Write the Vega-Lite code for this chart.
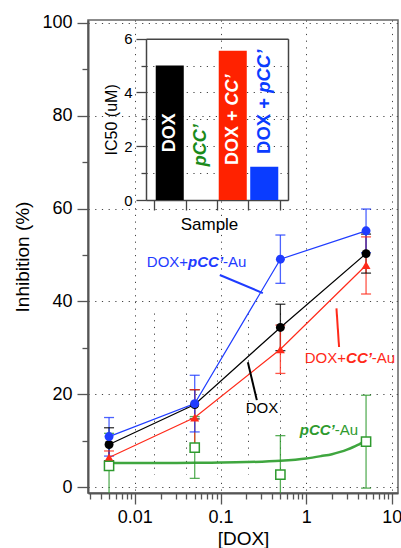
{
  "$schema": "https://vega.github.io/schema/vega-lite/v6.json",
  "width": 310,
  "height": 473,
  "autosize": "none",
  "padding": {"left": 88, "top": 20, "right": 3, "bottom": 55},
  "config": {
    "font": "Liberation Sans",
    "view": {"stroke": "#666", "strokeWidth": 1.5},
    "axis": {"labelColor": "#000", "titleColor": "#000", "titleFontWeight": "normal"}
  },
  "datasets": {
    "pts": [
      {"s": "pCC’-Au", "x": 0.005, "y": 4.6, "lo": -2.4, "hi": 11.6},
      {"s": "pCC’-Au", "x": 0.05, "y": 8.5, "lo": 1.9, "hi": 15.2},
      {"s": "pCC’-Au", "x": 0.5, "y": 2.7, "lo": -5.7, "hi": 11.1},
      {"s": "pCC’-Au", "x": 5, "y": 9.8, "lo": -0.2, "hi": 19.8},
      {"s": "DOX", "x": 0.005, "y": 9.2, "lo": 5.7, "hi": 12.8},
      {"s": "DOX", "x": 0.05, "y": 17.8, "lo": 14.7, "hi": 21.0},
      {"s": "DOX", "x": 0.5, "y": 34.4, "lo": 29.4, "hi": 39.4},
      {"s": "DOX", "x": 5, "y": 50.3, "lo": 46.1, "hi": 54.5},
      {"s": "DOX+CC’-Au", "x": 0.005, "y": 6.4, "lo": 5.0, "hi": 7.8},
      {"s": "DOX+CC’-Au", "x": 0.05, "y": 15.0, "lo": 9.0, "hi": 21.0},
      {"s": "DOX+CC’-Au", "x": 0.5, "y": 29.7, "lo": 24.5, "hi": 34.9},
      {"s": "DOX+CC’-Au", "x": 5, "y": 47.8, "lo": 41.6, "hi": 53.9},
      {"s": "DOX+pCC’-Au", "x": 0.005, "y": 10.9, "lo": 6.7, "hi": 15.0},
      {"s": "DOX+pCC’-Au", "x": 0.05, "y": 18.0, "lo": 11.9, "hi": 24.1},
      {"s": "DOX+pCC’-Au", "x": 0.5, "y": 49.1, "lo": 43.9, "hi": 54.3},
      {"s": "DOX+pCC’-Au", "x": 5, "y": 55.2, "lo": 50.5, "hi": 59.9}
    ],
    "fit": [
      {"x": 0.005, "y": 5.2}, {"x": 0.01, "y": 5.2}, {"x": 0.02, "y": 5.22},
      {"x": 0.05, "y": 5.25}, {"x": 0.1, "y": 5.3}, {"x": 0.2, "y": 5.4},
      {"x": 0.5, "y": 5.7}, {"x": 1, "y": 6.2}, {"x": 1.5, "y": 6.7},
      {"x": 2, "y": 7.1}, {"x": 2.5, "y": 7.6}, {"x": 3, "y": 8.1},
      {"x": 3.5, "y": 8.6}, {"x": 4, "y": 9.1}, {"x": 4.5, "y": 9.6}, {"x": 5, "y": 10.0}
    ],
    "ann": [
      {"s": "DOX+pCC’-Au", "x1": 0.0982, "y1": 45.7, "x2": 0.312, "y2": 41.8},
      {"s": "DOX+CC’-Au", "x1": 2.257, "y1": 38.5, "x2": 2.42, "y2": 30.2},
      {"s": "DOX", "x1": 0.2086, "y1": 26.9, "x2": 0.2655, "y2": 18.75}
    ],
    "lab": [
      {"s": "DOX+pCC’-Au", "st": "n", "t": "DOX+", "x": 0.0138, "y": 47.5},
      {"s": "DOX+pCC’-Au", "st": "b", "t": "pCC’", "x": 0.04188, "y": 47.5},
      {"s": "DOX+pCC’-Au", "st": "n", "t": "-Au", "x": 0.1072, "y": 47.5},
      {"s": "DOX+CC’-Au", "st": "n", "t": "DOX+", "x": 0.9632, "y": 26.8},
      {"s": "DOX+CC’-Au", "st": "b", "t": "CC’", "x": 2.922, "y": 26.8},
      {"s": "DOX+CC’-Au", "st": "n", "t": "-Au", "x": 5.843, "y": 26.8},
      {"s": "DOX", "st": "n", "t": "DOX", "x": 0.1973, "y": 15.9},
      {"s": "pCC’-Au", "st": "b", "t": "pCC’", "x": 0.842, "y": 11.2},
      {"s": "pCC’-Au", "st": "n", "t": "-Au", "x": 2.157, "y": 11.2}
    ],
    "bars": [
      {"c": "DOX", "v": 5.0},
      {"c": "pCC’", "v": 0},
      {"c": "DOX + CC’", "v": 5.55},
      {"c": "DOX + pCC’", "v": 1.24}
    ],
    "blab": [
      {"k": "wr", "c": "DOX", "t": "DOX", "v": 3.23},
      {"k": "wr", "c": "DOX + CC’", "t": "DOX +", "v": 3.33},
      {"k": "wi", "c": "DOX + CC’", "t": "CC’", "v": 3.33},
      {"k": "gi", "c": "pCC’", "t": "pCC’", "v": 2.04},
      {"k": "br", "c": "DOX + pCC’", "t": "DOX +", "v": 3.8},
      {"k": "bi", "c": "DOX + pCC’", "t": "pCC’", "v": 3.8}
    ]
  },
  "layer": [
    {
      "layer": [
        {
          "data": {"name": "fit"},
          "mark": {"type": "line", "color": "#3fa63f", "strokeWidth": 2.5, "interpolate": "monotone"},
          "encoding": {
            "x": {
              "field": "x", "type": "quantitative",
              "scale": {"type": "log", "domain": [0.00284, 11.8], "nice": false},
              "axis": {
                "orient": "bottom",
                "values": [0.003, 0.004, 0.005, 0.006, 0.007, 0.008, 0.009, 0.01, 0.02, 0.03, 0.04, 0.05, 0.06, 0.07, 0.08, 0.09, 0.1, 0.2, 0.3, 0.4, 0.5, 0.6, 0.7, 0.8, 0.9, 1, 2, 3, 4, 5, 6, 7, 8, 9, 10],
                "labelExpr": "abs(log(datum.value)/LN10 - round(log(datum.value)/LN10)) < 0.001 ? format(datum.value, '~g') : ''",
                "tickSize": {"condition": {"test": "abs(log(datum.value)/LN10 - round(log(datum.value)/LN10)) < 0.001", "value": 11}, "value": 6},
                "grid": true,
                "gridOpacity": {"condition": {"test": "abs(log(datum.value)/LN10 - round(log(datum.value)/LN10)) < 0.001", "value": 1}, "value": 0},
                "gridDash": [1.2, 5.5], "gridColor": "#444",
                "domainColor": "#555", "domainWidth": 2,
                "tickColor": "#555", "tickWidth": 1.3,
                "labelFontSize": 18, "labelPadding": 4, "labelFlush": false, "labelOverlap": false,
                "title": "[DOX]", "titleFontSize": 19, "titleY": 51, "titleBaseline": "alphabetic"
              }
            },
            "y": {
              "field": "y", "type": "quantitative",
              "scale": {"domain": [-1.25, 100.6], "nice": false, "zero": false},
              "axis": {
                "orient": "left",
                "values": [0, 10, 20, 30, 40, 50, 60, 70, 80, 90, 100],
                "labelExpr": "datum.value % 20 === 0 ? datum.label : ''",
                "tickSize": {"condition": {"test": "datum.value % 20 === 0", "value": 11}, "value": 6},
                "grid": true,
                "gridOpacity": {"condition": {"test": "datum.value % 20 === 0", "value": 1}, "value": 0},
                "gridDash": [1.2, 5.5], "gridColor": "#444",
                "domainColor": "#555", "domainWidth": 2,
                "tickColor": "#555", "tickWidth": 1.3,
                "labelFontSize": 18, "labelPadding": 5, "labelOverlap": false,
                "title": "Inhibition (%)", "titleFontSize": 19, "titlePadding": 9
              }
            }
          }
        },
        {
          "data": {"name": "pts"},
          "mark": {"type": "rule", "clip": true, "strokeWidth": 1.3, "opacity": 0.8},
          "encoding": {
            "x": {"field": "x", "type": "quantitative"},
            "y": {"field": "lo", "type": "quantitative"},
            "y2": {"field": "hi"},
            "color": {
              "field": "s", "type": "nominal", "legend": null,
              "scale": {"domain": ["DOX", "DOX+CC’-Au", "DOX+pCC’-Au", "pCC’-Au"], "range": ["#000000", "#ff2a1a", "#1f3cff", "#2e9a2e"]}
            }
          }
        },
        {
          "data": {"name": "pts"},
          "mark": {"type": "tick", "orient": "horizontal", "size": 10, "thickness": 1.3, "opacity": 0.8, "clip": true},
          "encoding": {
            "x": {"field": "x", "type": "quantitative"},
            "y": {"field": "lo", "type": "quantitative"},
            "color": {"field": "s", "type": "nominal", "legend": null}
          }
        },
        {
          "data": {"name": "pts"},
          "mark": {"type": "tick", "orient": "horizontal", "size": 10, "thickness": 1.3, "opacity": 0.8, "clip": true},
          "encoding": {
            "x": {"field": "x", "type": "quantitative"},
            "y": {"field": "hi", "type": "quantitative"},
            "color": {"field": "s", "type": "nominal", "legend": null}
          }
        },
        {
          "data": {"name": "pts"},
          "transform": [{"filter": "datum.s !== 'pCC’-Au'"}],
          "mark": {"type": "line", "strokeWidth": 1.2},
          "encoding": {
            "x": {"field": "x", "type": "quantitative"},
            "y": {"field": "y", "type": "quantitative"},
            "color": {"field": "s", "type": "nominal", "legend": null}
          }
        },
        {
          "data": {"name": "pts"},
          "transform": [{"filter": "datum.s !== 'pCC’-Au'"}],
          "mark": {"type": "point", "filled": true, "opacity": 1, "size": 80},
          "encoding": {
            "x": {"field": "x", "type": "quantitative"},
            "y": {"field": "y", "type": "quantitative"},
            "color": {"field": "s", "type": "nominal", "legend": null},
            "shape": {
              "field": "s", "type": "nominal", "legend": null,
              "scale": {"domain": ["DOX", "DOX+CC’-Au", "DOX+pCC’-Au"], "range": ["circle", "triangle-up", "circle"]}
            }
          }
        },
        {
          "data": {"name": "pts"},
          "transform": [{"filter": "datum.s === 'pCC’-Au'"}],
          "mark": {"type": "point", "shape": "square", "fill": "white", "stroke": "#2e9a2e", "strokeWidth": 1.5, "opacity": 1, "fillOpacity": 1, "size": 85},
          "encoding": {
            "x": {"field": "x", "type": "quantitative"},
            "y": {"field": "y", "type": "quantitative"}
          }
        },
        {
          "data": {"name": "ann"},
          "mark": {"type": "rule", "strokeWidth": 2},
          "encoding": {
            "x": {"field": "x1", "type": "quantitative"},
            "y": {"field": "y1", "type": "quantitative"},
            "x2": {"field": "x2"},
            "y2": {"field": "y2"},
            "color": {"field": "s", "type": "nominal", "legend": null}
          }
        },
        {
          "data": {"name": "lab"},
          "transform": [{"filter": "datum.st === 'n'"}],
          "mark": {"type": "text", "align": "left", "baseline": "alphabetic", "fontSize": 15},
          "encoding": {
            "x": {"field": "x", "type": "quantitative"},
            "y": {"field": "y", "type": "quantitative"},
            "text": {"field": "t"},
            "color": {"field": "s", "type": "nominal", "legend": null}
          }
        },
        {
          "data": {"name": "lab"},
          "transform": [{"filter": "datum.st === 'b'"}],
          "mark": {"type": "text", "align": "left", "baseline": "alphabetic", "fontSize": 15, "fontWeight": "bold", "fontStyle": "italic"},
          "encoding": {
            "x": {"field": "x", "type": "quantitative"},
            "y": {"field": "y", "type": "quantitative"},
            "text": {"field": "t"},
            "color": {"field": "s", "type": "nominal", "legend": null}
          }
        }
      ]
    },
    {
      "layer": [
        {
          "data": {"name": "bars"},
          "mark": {"type": "bar", "width": {"band": 0.89}},
          "encoding": {
            "x": {
              "field": "c", "type": "nominal", "sort": null,
              "scale": {"domain": ["DOX", "pCC’", "DOX + CC’", "DOX + pCC’"], "range": [58, 200], "paddingInner": 0, "paddingOuter": 0.254},
              "axis": {
                "orient": "bottom", "offset": -293, "tickBand": "extent", "labels": false,
                "tickSize": 10, "tickColor": "#444", "tickWidth": 1.3,
                "domainColor": "#444", "domainWidth": 1.5,
                "grid": true, "gridDash": [1.2, 5.5], "gridColor": "#444",
                "title": "Sample", "titleFontSize": 17, "titleX": 121, "titleY": 29, "titleBaseline": "alphabetic", "titleAlign": "center"
              }
            },
            "y": {
              "field": "v", "type": "quantitative",
              "scale": {"domain": [0, 6], "range": [180, 18.7], "nice": false},
              "axis": {
                "orient": "left", "offset": -58,
                "values": [0, 1, 2, 3, 4, 5, 6],
                "labelExpr": "datum.value % 2 === 0 ? datum.label : ''",
                "tickSize": {"condition": {"test": "datum.value % 2 === 0", "value": 10}, "value": 5},
                "tickColor": "#444", "tickWidth": 1.3,
                "domainColor": "#444", "domainWidth": 1.5,
                "grid": true, "gridDash": [1.2, 5.5], "gridColor": "#444",
                "labelFontSize": 15, "labelPadding": 4, "labelOverlap": false,
                "title": "IC50 (uM)", "titleFontSize": 16, "titlePadding": 4
              }
            },
            "color": {
              "field": "c", "type": "nominal", "legend": null,
              "scale": {"domain": ["DOX", "pCC’", "DOX + CC’", "DOX + pCC’"], "range": ["#000000", "#1a8a1a", "#ff2200", "#0a3cff"]}
            }
          }
        },
        {
          "data": {"name": "blab"},
          "transform": [{"filter": "datum.k === 'wr'"}],
          "mark": {"type": "text", "angle": 270, "align": "right", "baseline": "middle", "fontSize": 18, "fontWeight": "bold", "color": "white"},
          "encoding": {
            "x": {"field": "c", "type": "nominal", "axis": null},
            "y": {"field": "v", "type": "quantitative", "axis": null},
            "text": {"field": "t"}
          }
        },
        {
          "data": {"name": "blab"},
          "transform": [{"filter": "datum.k === 'wi'"}],
          "mark": {"type": "text", "angle": 270, "align": "left", "baseline": "middle", "dx": 5, "fontSize": 18, "fontWeight": "bold", "fontStyle": "italic", "color": "white"},
          "encoding": {
            "x": {"field": "c", "type": "nominal", "axis": null},
            "y": {"field": "v", "type": "quantitative", "axis": null},
            "text": {"field": "t"}
          }
        },
        {
          "data": {"name": "blab"},
          "transform": [{"filter": "datum.k === 'gi'"}],
          "mark": {"type": "text", "angle": 270, "align": "center", "baseline": "middle", "fontSize": 18, "fontWeight": "bold", "fontStyle": "italic", "color": "#1a8a1a"},
          "encoding": {
            "x": {"field": "c", "type": "nominal", "axis": null},
            "y": {"field": "v", "type": "quantitative", "axis": null},
            "text": {"field": "t"}
          }
        },
        {
          "data": {"name": "blab"},
          "transform": [{"filter": "datum.k === 'br'"}],
          "mark": {"type": "text", "angle": 270, "align": "right", "baseline": "middle", "fontSize": 18.5, "fontWeight": "bold", "color": "#0a3cff"},
          "encoding": {
            "x": {"field": "c", "type": "nominal", "axis": null},
            "y": {"field": "v", "type": "quantitative", "axis": null},
            "text": {"field": "t"}
          }
        },
        {
          "data": {"name": "blab"},
          "transform": [{"filter": "datum.k === 'bi'"}],
          "mark": {"type": "text", "angle": 270, "align": "left", "baseline": "middle", "dx": 5, "fontSize": 18.5, "fontWeight": "bold", "fontStyle": "italic", "color": "#0a3cff"},
          "encoding": {
            "x": {"field": "c", "type": "nominal", "axis": null},
            "y": {"field": "v", "type": "quantitative", "axis": null},
            "text": {"field": "t"}
          }
        },
        {
          "data": {"name": "bars"},
          "mark": {"type": "bar", "opacity": 0},
          "encoding": {
            "x": {
              "field": "c", "type": "nominal",
              "axis": {"orient": "top", "offset": -18.7, "ticks": false, "labels": false, "grid": false, "title": null, "domainColor": "#444", "domainWidth": 1.5}
            },
            "y": {
              "field": "v", "type": "quantitative",
              "axis": {"orient": "right", "offset": -110, "ticks": false, "labels": false, "grid": false, "title": null, "domainColor": "#444", "domainWidth": 1.5}
            }
          }
        }
      ],
      "resolve": {"axis": {"x": "independent", "y": "independent"}}
    }
  ],
  "resolve": {
    "scale": {"x": "independent", "y": "independent", "color": "independent", "shape": "independent"},
    "axis": {"x": "independent", "y": "independent"}
  }
}
